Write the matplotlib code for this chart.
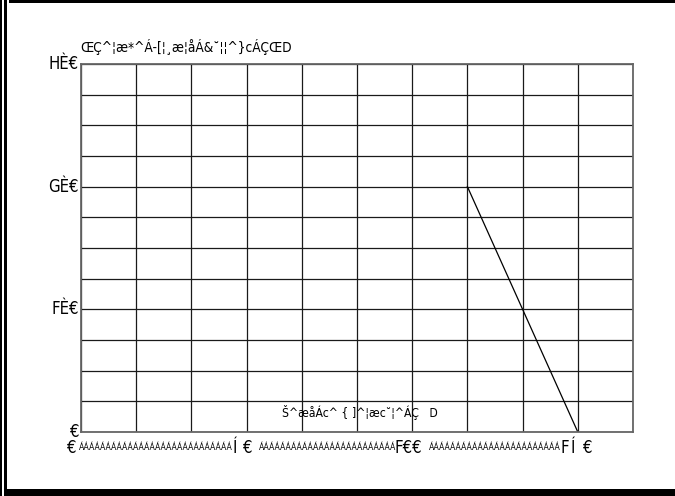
import matplotlib
matplotlib.use('Agg')
import matplotlib.pyplot as plt
from matplotlib import font_manager
from matplotlib.patches import Rectangle

# data (grid units on x, value on y)
line_x = [7, 9]
line_y = [2.0, 0.0]
y_ticks = [0, 1, 2, 3]
y_labels = ['€', 'FÈ€', 'GÈ€', 'HÈ€']
title_txt = 'ŒÇ^¦æ*^Á-[¦¸æ¦åÁ&˘¦¦^}cÁÇŒD'
inner_txt = 'Š^æåÁc^ { ]^¦æc˘¦^ÁÇ   D'
# bottom row pieces: (text, x pixel, big?)
row_parts = [('€', 66, True), ('Á' * 28, 79, False), ('Í', 233, True), ('€', 242, True),
             ('Á' * 25, 259, False), ('F€€', 395, True), ('Á' * 24, 429, False),
             ('F', 560, True), ('Í', 571, True), ('€', 582, True)]

# look for a narrow face, else plain DejaVu
narrow = None
for f in font_manager.fontManager.ttflist:
    if f.stretch in ('condensed', 'semi-condensed') or 'Narrow' in f.name or 'Condensed' in f.name:
        narrow = f
        break

W, H = 675, 496
fig = plt.figure(figsize=(W / 100, H / 100), dpi=100)
ax = fig.add_axes([81 / W, 1 - 432 / H, (633 - 81) / W, (432 - 64) / H])

ax.set_xlim(0, 10)
ax.set_ylim(0, 3)
ax.set_xticks(range(0, 11))
ax.set_yticks([i * 0.25 for i in range(13)])
ax.set_xticklabels([])
ax.set_yticklabels([])
ax.tick_params(length=0)
ax.grid(True, color='#1a1a1a', lw=0.9)
for s in ax.spines.values():
    s.set_color('#666666')
    s.set_linewidth(1.3)

ax.plot(line_x, line_y, color='black', lw=0.9)

def px(x, y):
    return x / W, 1 - y / H

def fp(size):
    if narrow is not None:
        return font_manager.FontProperties(family=[narrow.name, 'DejaVu Sans'],
                                           stretch=narrow.stretch, size=size)
    return font_manager.FontProperties(family='DejaVu Sans', size=size * 0.8)

for v, lab in zip(y_ticks, y_labels):
    yy = 432 - v * (432 - 64) / 3
    fig.text(*px(79, yy), lab, ha='right', va='center', fontproperties=fp(12))

fig.text(*px(80, 47), title_txt, ha='left', va='center', fontproperties=fp(9.8))
fig.text(*px(282, 413), inner_txt, ha='left', va='center', fontproperties=fp(8.7))

for txt, x, big in row_parts:
    fig.text(*px(x, 448), txt, ha='left', va='center',
             fontproperties=fp(12) if big else fp(6.2))

# outer frame bars
for (x0, y0, x1, y1) in [(0, 0, 2, 496), (4, 0, 7, 496), (9, 0, 675, 3), (7, 489, 675, 496)]:
    fig.add_artist(Rectangle((x0 / W, 1 - y1 / H), (x1 - x0) / W, (y1 - y0) / H,
                             transform=fig.transFigure, color='black', lw=0))

fig.savefig('out.png', dpi=100)
